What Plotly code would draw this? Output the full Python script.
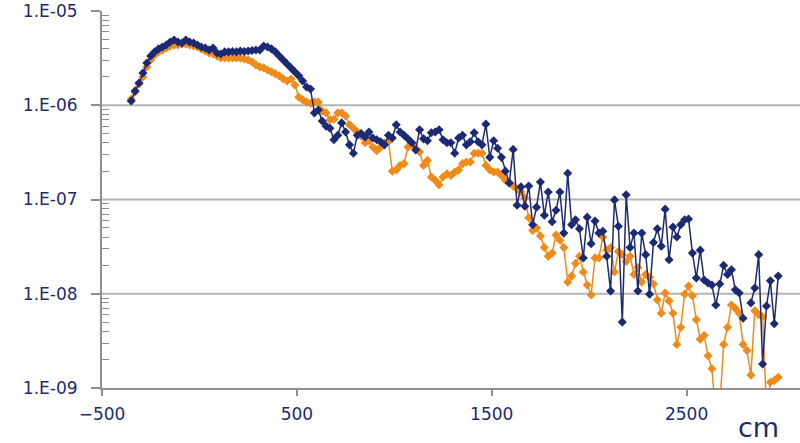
import plotly.graph_objects as go

# Depth positions along the profile (cm), sampled every 20 cm
distance_cm = list(range(-350, 2971, 20))

# Navy series
series_blue = [
    1.11e-6, 1.42e-6, 1.72e-6, 2.20e-6, 2.81e-6, 3.33e-6, 3.68e-6, 3.96e-6, 4.15e-6, 4.36e-6,
    4.69e-6, 4.93e-6, 4.69e-6, 4.58e-6, 4.93e-6, 4.69e-6, 4.58e-6, 4.36e-6, 4.15e-6, 4.05e-6,
    3.86e-6, 4.05e-6, 3.59e-6, 3.50e-6, 3.68e-6, 3.68e-6, 3.72e-6, 3.68e-6, 3.77e-6, 3.72e-6,
    3.77e-6, 3.81e-6, 3.86e-6, 3.86e-6, 4.26e-6, 4.15e-6, 3.96e-6, 3.68e-6, 3.33e-6, 3.02e-6,
    2.74e-6, 2.49e-6, 2.26e-6, 2.05e-6, 1.81e-6, 1.56e-6, 1.49e-6, 8.3e-7, 8.9e-7, 6.8e-7,
    6.0e-7, 5.7e-7, 4.3e-7, 4.8e-7, 6.5e-7, 5.2e-7, 3.8e-7, 3.1e-7, 4.8e-7, 5.0e-7,
    4.6e-7, 5.2e-7, 4.5e-7, 4.3e-7, 4.1e-7, 3.8e-7, 4.8e-7, 4.5e-7, 6.2e-7, 5.2e-7,
    4.8e-7, 4.4e-7, 4.0e-7, 3.35e-7, 5.5e-7, 4.4e-7, 4.2e-7, 5.1e-7, 5.2e-7, 5.5e-7,
    4.3e-7, 4.0e-7, 4.0e-7, 3.1e-7, 4.5e-7, 4.8e-7, 3.8e-7, 4.1e-7, 5.1e-7, 4.1e-7,
    3.8e-7, 6.3e-7, 2.8e-7, 4.2e-7, 3.5e-7, 2.8e-7, 2.0e-7, 1.5e-7, 3.4e-7, 8.7e-8,
    1.36e-7, 8.5e-8, 1.39e-7, 5.4e-8, 8.3e-8, 1.53e-7, 6.8e-8, 1.2e-7, 5.8e-8, 7.7e-8,
    1.2e-7, 4.4e-8, 1.9e-7, 5.4e-8, 6.1e-8, 4.9e-8, 2.4e-8, 6.5e-8, 3.4e-8, 5.9e-8,
    4.4e-8, 4.6e-8, 2.5e-8, 1.07e-8, 9.9e-8, 5.2e-8, 5.0e-9, 1.12e-7, 3.1e-8, 4.4e-8,
    1.07e-8, 4.4e-8, 2.6e-8, 9.9e-9, 3.5e-8, 4.9e-8, 3.2e-8, 7.9e-8, 2.3e-8, 5.1e-8,
    4.0e-8, 5.4e-8, 6.1e-8, 6.2e-8, 2.7e-8, 1.47e-8, 2.9e-8, 1.4e-8, 1.3e-8, 1.24e-8,
    7.6e-9, 1.27e-8, 2.0e-8, 1.6e-8, 1.8e-8, 1.1e-8, 1.02e-8, 5.5e-9, None, 8.0e-9,
    1.15e-8, 2.6e-8, 1.8e-9, 7.4e-9, 1.37e-8, 4.8e-9, 1.54e-8,
]

# Orange series
series_orange = [
    1.16e-6, 1.38e-6, 1.68e-6, 2.00e-6, 2.55e-6, 3.02e-6, 3.42e-6, 3.68e-6, 3.86e-6, 4.05e-6,
    4.26e-6, 4.36e-6, 4.36e-6, 4.47e-6, 4.47e-6, 4.36e-6, 4.26e-6, 4.15e-6, 3.96e-6, 3.77e-6,
    3.59e-6, 3.50e-6, 3.33e-6, 3.18e-6, 3.18e-6, 3.18e-6, 3.18e-6, 3.18e-6, 3.18e-6, 3.10e-6,
    3.02e-6, 2.88e-6, 2.68e-6, 2.55e-6, 2.49e-6, 2.37e-6, 2.26e-6, 2.15e-6, 2.05e-6, 1.90e-6,
    1.81e-6, 1.90e-6, 1.64e-6, 1.22e-6, 1.14e-6, 1.08e-6, 1.05e-6, 1.08e-6, 1.08e-6, 8.7e-7,
    8.3e-7, 7.0e-7, 7.1e-7, 8.3e-7, 8.3e-7, 7.7e-7, 6.2e-7, 5.7e-7, 5.2e-7, 4.7e-7,
    4.0e-7, 4.2e-7, 3.6e-7, 3.3e-7, 3.6e-7, 4.0e-7, 4.1e-7, 2.0e-7, 2.06e-7, 2.3e-7,
    2.4e-7, 3.6e-7, 3.9e-7, 3.5e-7, 3.2e-7, 2.3e-7, 2.6e-7, 1.73e-7, 1.6e-7, 1.43e-7,
    1.73e-7, 1.87e-7, 1.8e-7, 1.96e-7, 2.06e-7, 2.4e-7, 2.5e-7, 2.5e-7, 3.1e-7, 3.1e-7,
    3.1e-7, 2.3e-7, 2.06e-7, 1.96e-7, 1.96e-7, 1.8e-7, 1.6e-7, 1.5e-7, 1.39e-7, 1.29e-7,
    1.2e-7, 1.04e-7, 6.4e-8, 4.7e-8, 5.0e-8, 4.1e-8, 3.1e-8, 2.5e-8, 2.7e-8, 4.2e-8,
    3.7e-8, 3.1e-8, 1.33e-8, 1.54e-8, 2.1e-8, 2.5e-8, 1.7e-8, 1.24e-8, 9.7e-9, 2.4e-8,
    2.4e-8, 4.0e-8, 2.9e-8, 3.1e-8, 1.7e-8, 2.8e-8, 2.6e-8, 2.2e-8, 2.5e-8, 1.6e-8,
    1.9e-8, 1.33e-8, 1.6e-8, 1.5e-8, 1.27e-8, 8.6e-9, 6.2e-9, 1.02e-8, 8.4e-9, 6.2e-9,
    2.9e-9, 4.4e-9, 9.9e-9, 1.21e-8, 9.5e-9, 5.3e-9, 3.3e-9, 3.6e-9, 2.2e-9, 1.6e-9,
    5e-10, 6e-10, 2.9e-9, 4.4e-9, 7.6e-9, 7.0e-9, 6.2e-9, 2.9e-9, 2.5e-9, 1.37e-9,
    6.6e-9, 6.0e-9, 5.7e-9, 6e-10, 1.15e-9, 1.2e-9, 1.3e-9,
]

decade_vals = [1e-9, 1e-8, 1e-7, 1e-6, 1e-5]
decade_text = ["1.E-09", "1.E-08", "1.E-07", "1.E-06", "1.E-05"]
x_tick_vals = [-500, 500, 1500, 2500]
x_unit = "cm"

NAVY = "#1c2a73"
ORANGE = "#f08a18"
AXIS = "#8e8e8e"
GRID = "#b4b4b4"
FONT = "DejaVu Sans"

minor_vals = [m * 10.0 ** e for e in range(-9, -5) for m in range(2, 10)]

fig = go.Figure()
fig.add_trace(go.Scatter(
    x=distance_cm, y=series_orange, mode="lines+markers",
    line=dict(color=ORANGE, width=1.5),
    marker=dict(symbol="diamond", size=7, color=ORANGE),
    connectgaps=False, hoverinfo="x+y",
))
fig.add_trace(go.Scatter(
    x=distance_cm, y=series_blue, mode="lines+markers",
    line=dict(color=NAVY, width=1.5),
    marker=dict(symbol="diamond", size=7, color=NAVY),
    connectgaps=False, hoverinfo="x+y",
))

# horizontal gridlines at the inner decades
for v in decade_vals[1:-1]:
    fig.add_shape(type="line", xref="paper", x0=0, x1=1, yref="y", y0=v, y1=v,
                  line=dict(color=GRID, width=2), layer="below")

fig.update_layout(
    width=800, height=443,
    margin=dict(l=102, r=0, t=11, b=55),
    paper_bgcolor="white", plot_bgcolor="white",
    showlegend=False,
    font=dict(family=FONT, color=NAVY, size=17),
)
fig.update_xaxes(
    range=[-500, 3082], tickvals=x_tick_vals,
    ticks="outside", ticklen=6, tickwidth=1.5, tickcolor=AXIS,
    showline=True, linecolor=AXIS, linewidth=2,
    showgrid=False, zeroline=False,
    tickfont=dict(family=FONT, size=17, color=NAVY),
    ticklabelstandoff=4,
)
fig.update_yaxes(
    type="log", range=[-9, -5],
    tickvals=decade_vals, ticktext=decade_text,
    ticks="outside", ticklen=9, tickwidth=1.5, tickcolor=AXIS,
    showline=True, linecolor=AXIS, linewidth=2,
    showgrid=False, zeroline=False,
    minor=dict(tickvals=minor_vals, ticks="inside", ticklen=7, tickwidth=1, tickcolor=AXIS, showgrid=False),
    tickfont=dict(family=FONT, size=17, color=NAVY),
    ticklabelstandoff=10,
)
fig.add_annotation(
    text=x_unit, xref="paper", yref="paper", x=0.941, y=-0.106,
    xanchor="center", yanchor="middle", showarrow=False,
    font=dict(family=FONT, size=27, color=NAVY),
)

fig.write_html("out.html")
